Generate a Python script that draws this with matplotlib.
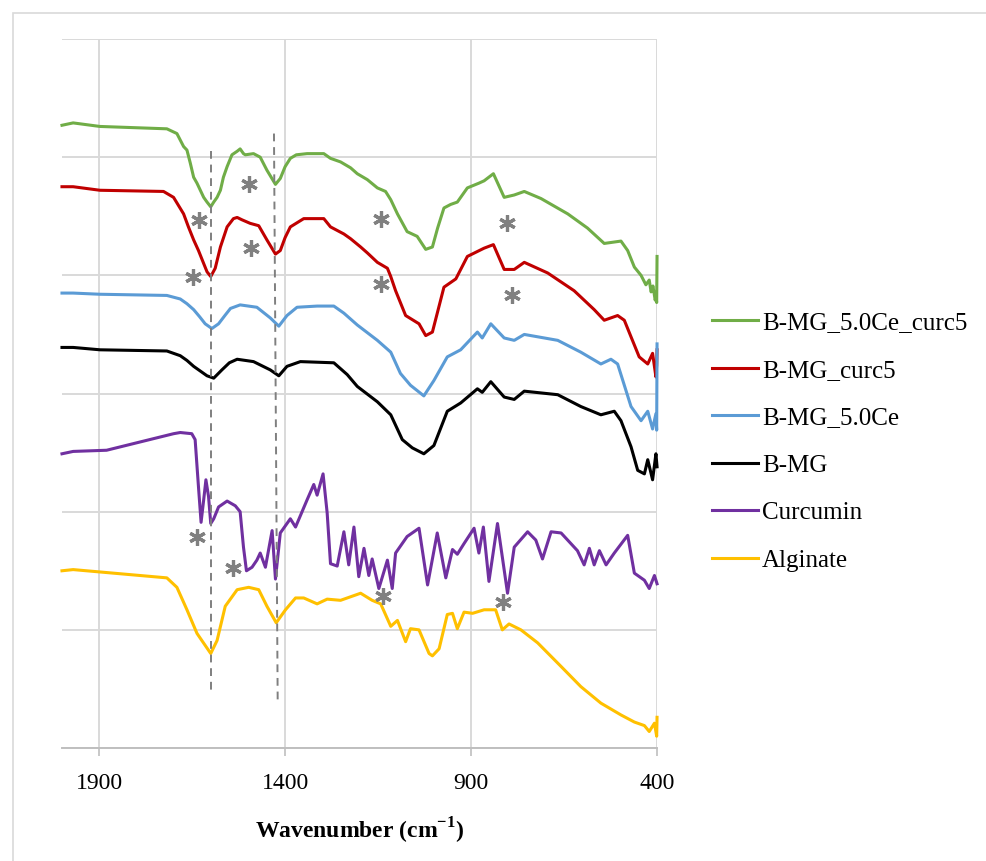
import matplotlib.pyplot as plt
from matplotlib.patches import Rectangle

# FTIR spectra, wavenumber (cm-1) and offset transmittance (a.u.)
green_wn = [2000, 1970, 1898, 1718, 1691, 1673, 1664, 1655, 1646, 1637, 1628, 1619, 1610, 1600, 1592,
            1583, 1574, 1566, 1556, 1543, 1529, 1521, 1512, 1507, 1485, 1467, 1449, 1426, 1413, 1400,
            1386, 1370, 1341, 1296, 1278, 1251, 1224, 1206, 1179, 1152, 1130, 1116, 1098, 1072, 1045,
            1022, 1004, 990, 973, 955, 937, 910, 879, 865, 840, 811, 784, 757, 712, 640,
            587, 542, 497, 479, 461, 443, 430, 421, 416, 411, 405, 403, 401, 400]
green_y = [5.27, 5.29, 5.26, 5.24, 5.20, 5.09, 5.06, 4.95, 4.83, 4.78, 4.72, 4.66, 4.62, 4.58, 4.62,
           4.66, 4.72, 4.83, 4.92, 5.02, 5.05, 5.07, 5.03, 5.02, 5.03, 5.00, 4.89, 4.77, 4.82, 4.92,
           4.99, 5.02, 5.03, 5.03, 4.99, 4.96, 4.91, 4.86, 4.81, 4.74, 4.71, 4.64, 4.52, 4.37, 4.33,
           4.22, 4.24, 4.40, 4.57, 4.60, 4.62, 4.74, 4.78, 4.80, 4.86, 4.66, 4.68, 4.71, 4.65, 4.52,
           4.40, 4.27, 4.29, 4.21, 4.07, 4.00, 3.92, 3.96, 3.86, 3.91, 3.79, 3.82, 3.77, 4.16]

red_wn = [2000, 1970, 1898, 1727, 1700, 1673, 1660, 1646, 1633, 1619, 1610, 1600, 1588, 1574, 1556,
          1539, 1529, 1516, 1494, 1471, 1449, 1426, 1413, 1400, 1386, 1350, 1296, 1278, 1242, 1224,
          1197, 1179, 1152, 1125, 1116, 1103, 1076, 1040, 1022, 1004, 973, 941, 910, 865, 840,
          811, 784, 757, 694, 623, 569, 542, 506, 488, 470, 448, 425, 412, 403, 401, 400]
red_y = [4.75, 4.75, 4.72, 4.71, 4.66, 4.52, 4.41, 4.30, 4.21, 4.10, 4.03, 3.99, 4.06, 4.24, 4.41,
         4.48, 4.49, 4.47, 4.44, 4.42, 4.30, 4.18, 4.21, 4.32, 4.41, 4.48, 4.48, 4.41, 4.35, 4.31,
         4.24, 4.19, 4.11, 4.06, 3.99, 3.87, 3.66, 3.59, 3.49, 3.52, 3.90, 3.97, 4.16, 4.23, 4.26,
         4.05, 4.05, 4.11, 4.02, 3.87, 3.71, 3.62, 3.66, 3.62, 3.48, 3.31, 3.25, 3.34, 3.14, 3.24, 3.37]

blue_wn = [2000, 1970, 1898, 1718, 1682, 1664, 1646, 1630, 1615, 1597, 1579, 1562, 1547, 1521, 1476,
           1440, 1417, 1395, 1368, 1314, 1269, 1242, 1206, 1152, 1116, 1090, 1063, 1027, 1000, 964,
           928, 883, 870, 847, 811, 784, 757, 667, 605, 551, 524, 506, 470, 443, 425,
           412, 403, 401, 400]
blue_y = [3.85, 3.85, 3.84, 3.83, 3.80, 3.76, 3.71, 3.65, 3.59, 3.55, 3.59, 3.66, 3.72, 3.75, 3.73,
          3.64, 3.57, 3.66, 3.73, 3.74, 3.74, 3.68, 3.58, 3.45, 3.35, 3.17, 3.07, 2.98, 3.11, 3.31,
          3.37, 3.52, 3.47, 3.59, 3.47, 3.45, 3.50, 3.45, 3.35, 3.25, 3.29, 3.25, 2.89, 2.77, 2.85,
          2.70, 2.83, 2.69, 3.42]

black_wn = [2000, 1970, 1898, 1718, 1682, 1664, 1646, 1628, 1610, 1592, 1570, 1550, 1529, 1485, 1440,
            1417, 1395, 1359, 1269, 1233, 1206, 1152, 1116, 1085, 1058, 1027, 1000, 964, 928, 883,
            870, 847, 811, 784, 757, 667, 605, 551, 515, 497, 470, 452, 434, 425, 412,
            403, 400]
black_y = [3.39, 3.39, 3.37, 3.36, 3.32, 3.28, 3.23, 3.19, 3.15, 3.13, 3.20, 3.26, 3.29, 3.27, 3.20,
           3.15, 3.23, 3.27, 3.26, 3.16, 3.06, 2.93, 2.82, 2.61, 2.54, 2.49, 2.56, 2.85, 2.92, 3.04,
           3.01, 3.10, 2.97, 2.95, 3.02, 2.99, 2.89, 2.82, 2.85, 2.77, 2.55, 2.35, 2.32, 2.44, 2.27,
           2.49, 2.38]

purple_wn = [2000, 1970, 1880, 1790, 1700, 1682, 1651, 1642, 1633, 1626, 1619, 1613, 1606, 1600, 1592,
             1579, 1556, 1534, 1521, 1512, 1504, 1489, 1476, 1467, 1453, 1435, 1426, 1413, 1386, 1372,
             1341, 1323, 1314, 1298, 1287, 1278, 1260, 1242, 1229, 1215, 1202, 1188, 1175, 1166, 1148,
             1125, 1112, 1103, 1072, 1040, 1017, 991, 968, 950, 937, 919, 892, 879, 867, 852,
             829, 802, 784, 748, 726, 708, 685, 658, 614, 596, 582, 569, 555, 537, 515,
             479, 461, 434, 421, 407, 400]
purple_y = [2.49, 2.51, 2.52, 2.59, 2.66, 2.67, 2.66, 2.61, 2.21, 1.91, 2.10, 2.27, 2.13, 1.90, 1.94,
            2.04, 2.09, 2.05, 2.00, 1.70, 1.50, 1.53, 1.59, 1.65, 1.53, 1.84, 1.43, 1.82, 1.94, 1.87,
            2.10, 2.23, 2.14, 2.32, 1.99, 1.56, 1.54, 1.83, 1.55, 1.87, 1.45, 1.69, 1.46, 1.60, 1.35,
            1.59, 1.35, 1.65, 1.79, 1.86, 1.38, 1.82, 1.44, 1.68, 1.64, 1.73, 1.86, 1.65, 1.87, 1.41,
            1.90, 1.31, 1.70, 1.83, 1.76, 1.60, 1.83, 1.82, 1.67, 1.55, 1.69, 1.55, 1.67, 1.55, 1.65,
            1.80, 1.48, 1.42, 1.35, 1.46, 1.39]

yellow_wn = [2000, 1970, 1898, 1718, 1691, 1664, 1637, 1600, 1583, 1561, 1529, 1498, 1471, 1449, 1424,
             1399, 1372, 1350, 1314, 1287, 1251, 1197, 1166, 1143, 1116, 1098, 1076, 1063, 1040, 1013,
             1004, 986, 964, 950, 937, 919, 896, 865, 834, 816, 798, 766, 721, 658, 605,
             551, 497, 461, 434, 421, 407, 401, 400]
yellow_y = [1.50, 1.51, 1.49, 1.44, 1.36, 1.17, 0.97, 0.80, 0.91, 1.20, 1.34, 1.36, 1.34, 1.20, 1.06,
            1.17, 1.27, 1.27, 1.22, 1.26, 1.25, 1.31, 1.25, 1.22, 1.03, 1.08, 0.90, 1.01, 1.00, 0.80,
            0.78, 0.84, 1.13, 1.14, 1.01, 1.15, 1.14, 1.17, 1.17, 1.00, 1.05, 1.00, 0.89, 0.69, 0.52,
            0.38, 0.28, 0.22, 0.19, 0.14, 0.21, 0.10, 0.26]

labels = ['B-MG_5.0Ce_curc5', 'B-MG_curc5', 'B-MG_5.0Ce', 'B-MG', 'Curcumin', 'Alginate']
colors = ['#70AD47', '#C00000', '#5B9BD5', '#000000', '#7030A0', '#FFC000']

# marked bands
star_wn = [1498, 1631, 1492, 1647, 1141, 803, 1143, 791, 1636, 1540, 1137, 814]
star_y = [4.77, 4.47, 4.23, 3.99, 4.48, 4.44, 3.93, 3.83, 1.79, 1.52, 1.29, 1.24]

# dashed guide lines (top and bottom ends)
guide_wn_top = [1600, 1430]
guide_wn_bot = [1600, 1420]
guide_y_top = [5.05, 5.20]
guide_y_bot = [0.47, 0.38]

xticks = [1900, 1400, 900, 400]

plt.rcParams['font.family'] = ['Liberation Serif', 'DejaVu Serif']
plt.rcParams['mathtext.fontset'] = 'custom'
plt.rcParams['mathtext.rm'] = 'Liberation Serif'
plt.rcParams['mathtext.bf'] = 'Liberation Serif:bold'

fig = plt.figure(figsize=(9.87, 8.61), dpi=100)
ax = fig.add_axes([0.0628, 0.1312, 0.6029, 0.8235])

spectra = [(green_wn, green_y), (red_wn, red_y), (blue_wn, blue_y),
           (black_wn, black_y), (purple_wn, purple_y), (yellow_wn, yellow_y)]
for (wn, y), c, lab in zip(spectra, colors, labels):
    ax.plot(wn, y, color=c, lw=2.2, label=lab, solid_joinstyle='round', clip_on=False)

for i in range(len(guide_wn_top)):
    ax.plot([guide_wn_top[i], guide_wn_bot[i]], [guide_y_top[i], guide_y_bot[i]],
            color='#7F7F7F', lw=1.4, ls=(0, (4, 3)))

ax.plot(star_wn, star_y, ls='none', marker=(6, 2, 0), ms=12, mew=2.3, color='#808080')

ax.set_xlim(2000, 400)
ax.set_ylim(0, 6)
ax.set_xticks(xticks)
ax.set_yticks(range(7))
ax.yaxis.set_ticklabels([])
ax.tick_params(axis='y', length=0)
ax.tick_params(axis='x', length=6, width=1.2, color='#BFBFBF', labelsize=17, pad=12)
ax.grid(color='#D9D9D9', lw=1.4)
ax.set_axisbelow(True)
for s in ['top', 'right', 'left']:
    ax.spines[s].set_visible(False)
ax.spines['bottom'].set_color('#BFBFBF')
ax.spines['bottom'].set_linewidth(1.4)
ax.set_xlabel(r'Wavenumber (cm$^{\mathbf{-1}}$)', fontsize=17, fontweight='bold', labelpad=16)

leg = ax.legend(loc='center left', bbox_to_anchor=(0.7214, 0.487), bbox_transform=fig.transFigure,
                frameon=False, fontsize=18, handlelength=1.84, handletextpad=0.16,
                labelspacing=1.0, borderpad=0, borderaxespad=0)
for line in leg.get_lines():
    line.set_linewidth(2.2)

fig.add_artist(Rectangle((13 / 987, -0.1), 1.2, 0.1 + 848 / 861, transform=fig.transFigure,
                         fill=False, ec='#D9D9D9', lw=1.2))

fig.savefig('out.png', dpi=100)
